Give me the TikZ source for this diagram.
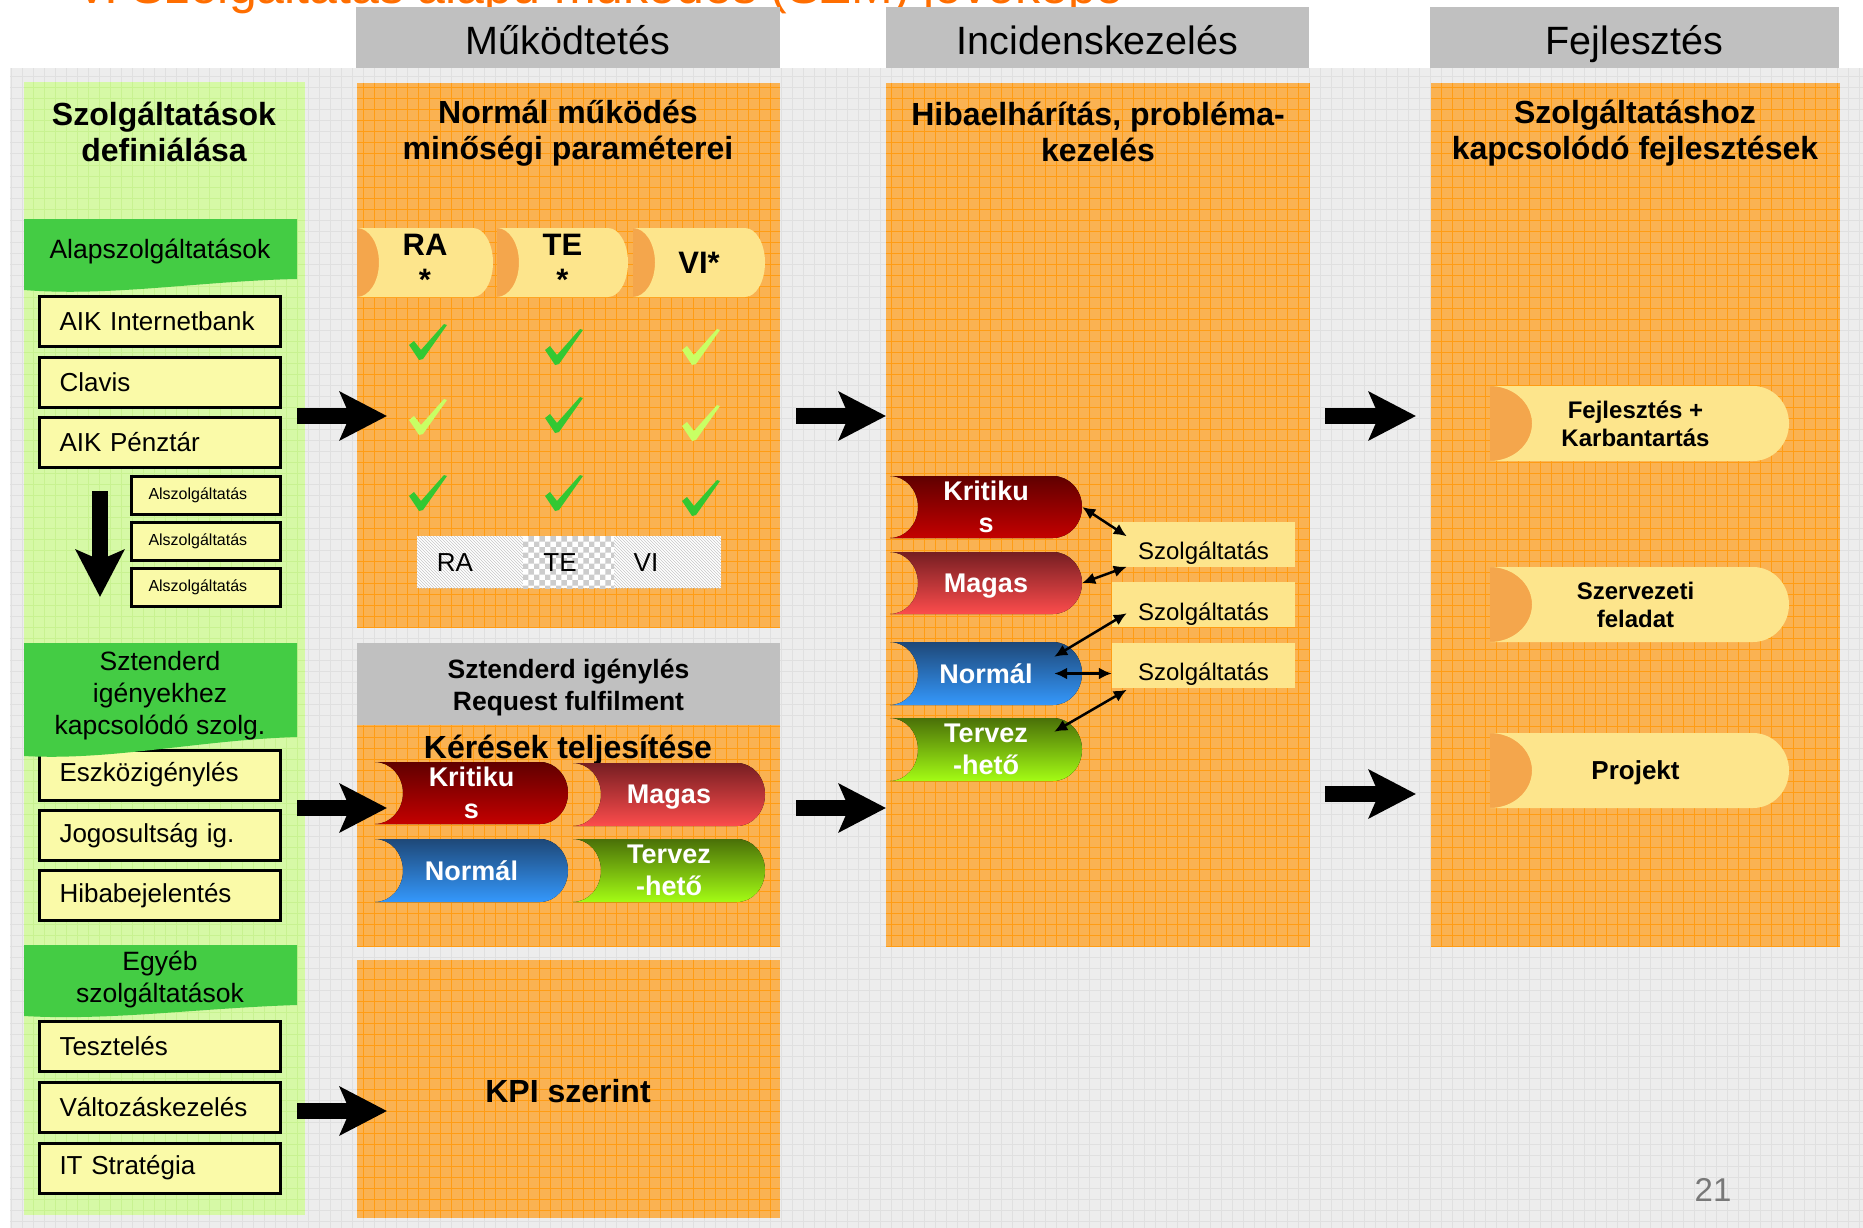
\documentclass[tikz,border=0pt]{standalone}
\usepackage{fontspec}
\setmainfont{Liberation Sans}
\usetikzlibrary{arrows.meta,patterns,calc}
\definecolor{bggray}{RGB}{237,237,237}
\definecolor{bggrid}{RGB}{224,224,224}
\definecolor{hdrgray}{RGB}{192,192,192}
\definecolor{lgreen}{RGB}{214,249,166}
\definecolor{lgreengrid}{RGB}{200,242,145}
\definecolor{dgreen}{RGB}{68,204,68}
\definecolor{boxyel}{RGB}{250,250,168}
\definecolor{orfill}{RGB}{250,178,82}
\definecolor{orgridc}{RGB}{255,156,20}
\definecolor{tabyel}{RGB}{253,229,140}
\definecolor{bitec}{RGB}{244,166,76}
\definecolor{chkdark}{RGB}{50,200,50}
\definecolor{chklight}{RGB}{200,255,100}
\definecolor{titleor}{RGB}{255,110,0}
\definecolor{krtop}{RGB}{96,0,0}
\definecolor{krbot}{RGB}{196,0,0}
\definecolor{mgtop}{RGB}{118,30,34}
\definecolor{mgbot}{RGB}{252,76,76}
\definecolor{nmtop}{RGB}{30,72,120}
\definecolor{nmbot}{RGB}{52,152,252}
\definecolor{tvtop}{RGB}{74,112,8}
\definecolor{tvbot}{RGB}{164,252,20}
\definecolor{pggray}{RGB}{120,120,120}

\newcommand\fsz[2]{\fontsize{#1}{#2}\selectfont}
\def\tbite{28}\def\trad{29}
\newcommand\tabfill[5]{%
 \fill[#1] (#2,#3) -- ({#4-\trad},#3) .. controls ({#4-0.448*\trad},#3) and (#4,{#3+0.224*(#5-#3)}) .. (#4,{0.5*(#3+#5)}) .. controls (#4,{#5-0.224*(#5-#3)}) and ({#4-0.448*\trad},#5) .. ({#4-\trad},#5) -- (#2,#5) .. controls ({#2+0.552*\tbite},#5) and ({#2+\tbite},{#5-0.224*(#5-#3)}) .. ({#2+\tbite},{0.5*(#3+#5)}) .. controls ({#2+\tbite},{#3+0.224*(#5-#3)}) and ({#2+0.552*\tbite},#3) .. (#2,#3) -- cycle;}
\newcommand\bitefill[4]{%
 \fill[#1] (#2,#3) -- (#2,#4) .. controls ({#2+0.552*\tbite},#4) and ({#2+\tbite},{#4-0.224*(#4-#3)}) .. ({#2+\tbite},{0.5*(#3+#4)}) .. controls ({#2+\tbite},{#3+0.224*(#4-#3)}) and ({#2+0.552*\tbite},#3) .. (#2,#3) -- cycle;}
\newcommand\tabnode[8]{%
 \tabfill{#6}{#2}{#3}{#4}{#5}
 \pgfmathsetlengthmacro\tabw{(#4-#2)*1pt}\pgfmathsetlengthmacro\tabh{(#5-#3)*1pt}
 \node[minimum width=\tabw, minimum height=\tabh, inner sep=0pt, #7] (#1) at ({0.5*(#2+#4)},{0.5*(#3+#5)}) {#8};}
\newcommand\chk[3]{\fill[#3,shift={(#1,#2)}] (-19,3) -- (-14,-1) -- (-7,8) -- (16,-18) -- (19,-17) -- (-5,17) -- (-9,18) -- cycle;}

\begin{document}
\begin{tikzpicture}[x=1pt,y=-1pt,
  hdr/.style={fill=hdrgray, minimum width=424pt, minimum height=61pt, inner sep=0pt, text height=34pt, text depth=0pt, font=\fsz{39.5}{44}},
  lbox/.style={draw, line width=3pt, fill=boxyel, minimum width=241pt, minimum height=50pt, text width=201pt, inner xsep=20pt, inner ysep=0pt, align=left, font=\fsz{26}{30}},
  sbox/.style={draw, line width=3pt, fill=boxyel, minimum width=149pt, minimum height=38pt, text width=115pt, inner xsep=17pt, inner ysep=0pt, align=left, font=\fsz{16}{19}},
  ttl/.style={font=\bfseries\fsz{32}{36}, align=center},
  bantxt/.style={font=\fsz{26.5}{32}, align=center},
  tabblk/.style={font=\bfseries\fsz{31}{35}, align=center, text=black},
  tabfj/.style={font=\bfseries\fsz{24}{28}, align=center, text=black, xshift=-4pt},
  tabtxt/.style={font=\bfseries\fsz{27}{32}, align=center, text=white},
  szb/.style={fill=tabyel, minimum width=183pt, minimum height=45pt, inner sep=0pt, text height=31pt, text depth=0pt, font=\fsz{24}{28}},
  orgrid/.style={draw=orgridc, line width=1pt, step=11pt},
  bigarrow/.style={line width=16pt, -{Stealth[length=47pt,width=48pt,inset=10pt]}},
  dbl/.style={{Latex[length=13pt,width=12pt]}-{Latex[length=13pt,width=12pt]}, line width=2.5pt}
]
\useasboundingbox (0,0) rectangle (1863,1228);
\clip (0,0) rectangle (1863,1228);
\fill[white] (0,0) rectangle (1863,1228);
% title (cut off at top)
\node[anchor=base west, text=titleor, font=\fsz{50}{60}, inner sep=0pt] (title) at (75,4) {V. Szolgáltatás alapú működés (SZM) jövőképe};
% background
\fill[bggray] (10,68) rectangle (1863,1228);
\draw[bggrid, line width=1pt, step=11pt] (10,1228) grid (1863,68);
% headers
\node[hdr] (h1) at (568,37.5) {Működtetés};
\node[hdr, minimum width=423pt] (h2) at (1097.5,37.5) {Incidenskezelés};
\node[hdr, minimum width=409pt] (h3) at (1634.5,37.5) {Fejlesztés};
% left column
\fill[lgreen] (24,82) rectangle (305,1215);
\draw[lgreengrid, line width=1pt, step=11pt] (24,1215) grid (305,82);
\node[ttl] (ltitle) at (164,132) {Szolgáltatások\\definiálása};
\fill[dgreen] (24,219) -- (297,219) -- (297,279) .. controls (200,281) and (110,297) .. (24,290) -- cycle;
\node[bantxt] (alap) at (160,251) {Alapszolgáltatások};
\node[lbox] (aik) at (160,321.5) {AIK Internetbank};
\node[lbox] (clavis) at (160,382.5) {Clavis};
\node[lbox] (penz) at (160,442) {AIK Pénztár};
\node[sbox] (al1) at (206,495.5) {Alszolgáltatás};
\node[sbox] (al2) at (206,541.5) {Alszolgáltatás};
\node[sbox] (al3) at (206,587) {Alszolgáltatás};
\coordinate (da1) at (100,491);
\coordinate (da2) at (100,597);
\draw[bigarrow] (da1) -- (da2);
\node[lbox] (eszk) at (160,775) {Eszközigénylés};
\node[lbox] (jog) at (160,835.5) {Jogosultság ig.};
\node[lbox] (hiba) at (160,895.5) {Hibabejelentés};
\fill[dgreen] (24,643) -- (297,643) -- (297,737) .. controls (200,740) and (110,761) .. (24,756) -- cycle;
\node[bantxt] (sztb) at (160,696) {Sztenderd\\igényekhez\\kapcsolódó szolg.};
\node[lbox] (teszt) at (160,1046.5) {Tesztelés};
\node[lbox] (valt) at (160,1107.5) {Változáskezelés};
\node[lbox] (itst) at (160,1168) {IT Stratégia};
\fill[dgreen] (24,945) -- (297,945) -- (297,1005) .. controls (200,1008) and (110,1021) .. (24,1016) -- cycle;
\node[bantxt] (egyb) at (160,979) {Egyéb\\szolgáltatások};
% orange panels
\fill[orfill] (357,83) rectangle (780,627);
\draw[orgrid] (357,627) grid (780,83);
\fill[orfill] (357,725) rectangle (780,946);
\draw[orgrid] (357,946) grid (780,725);
\fill[orfill] (357,960) rectangle (780,1218);
\draw[orgrid] (357,1218) grid (780,960);
\fill[orfill] (886,83) rectangle (1310,946);
\draw[orgrid] (886,946) grid (1310,83);
\fill[orfill] (1431,83) rectangle (1840,946);
\draw[orgrid] (1431,946) grid (1840,83);
\fill[hdrgray] (357,643) rectangle (780,725);
\node[font=\bfseries\fsz{26.5}{32}, align=center] (sth) at (568.5,688) {Sztenderd igénylés\\Request fulfilment};
% panel titles
\node[ttl] (t1) at (568,133) {Normál működés\\minőségi paraméterei};
\node[ttl] (t3) at (1098,132) {Hibaelhárítás, probléma-\\kezelés};
\node[ttl] (t4) at (1635,133) {Szolgáltatáshoz\\kapcsolódó fejlesztések};
\node[font=\bfseries\fsz{32}{36}] (ker) at (568,750) {Kérések teljesítése};
\node[font=\bfseries\fsz{32}{36}] (kpi) at (568,1091) {KPI szerint};
% RA TE VI tabs
\def\tbite{22}\def\trad{20}
\bitefill{bitec}{357}{228}{297}
\tabnode{ra}{357}{228}{493}{297}{tabyel}{tabblk}{RA\\*}
\bitefill{bitec}{497}{228}{297}
\tabnode{te}{497}{228}{628}{297}{tabyel}{tabblk}{TE\\*}
\bitefill{bitec}{633}{228}{297}
\tabnode{vi}{633}{228}{765}{297}{tabyel}{tabblk}{VI*}
% checks
\chk{428}{342}{chkdark} \chk{564}{347}{chkdark} \chk{701}{347}{chklight}
\chk{428}{417}{chklight} \chk{564}{415}{chkdark} \chk{701}{423}{chklight}
\chk{428}{493}{chkdark} \chk{564}{493}{chkdark} \chk{701}{498}{chkdark}
% RA TE VI legend box
\fill[white] (417,536) rectangle (721,588);
\fill[pattern=north west lines, pattern color=gray!45] (417,536) rectangle (721,588);
\fill[white] (523,536) rectangle (614,588);
\fill[pattern=checkerboard, pattern color=gray!40] (523,536) rectangle (614,588);
\node[font=\fsz{26}{30}] (lra) at (455,563) {RA};
\node[font=\fsz{26}{30}] (lte) at (560,563) {TE};
\node[font=\fsz{26}{30}] (lvi) at (646,563) {VI};
% Keresek tabs
\def\tbite{28}\def\trad{28}
\tabnode{kk}{375}{762}{568}{824}{top color=krtop,bottom color=krbot}{tabtxt}{Kritiku\\s}
\tabnode{km}{573}{763}{765}{826}{top color=mgtop,bottom color=mgbot}{tabtxt, text depth=0pt}{Magas}
\tabnode{kn}{375}{839}{568}{902}{top color=nmtop,bottom color=nmbot}{tabtxt}{Normál}
\tabnode{kt}{573}{839}{765}{902}{top color=tvtop,bottom color=tvbot}{tabtxt}{Tervez\\-hető}
% incident tabs
\def\tbite{28}\def\trad{29}
\tabnode{kr}{890}{476}{1082}{538}{top color=krtop,bottom color=krbot}{tabtxt}{Kritiku\\s}
\tabnode{mg}{890}{552}{1082}{614}{top color=mgtop,bottom color=mgbot}{tabtxt, text depth=0pt}{Magas}
\tabnode{nm}{890}{642}{1082}{705}{top color=nmtop,bottom color=nmbot}{tabtxt}{Normál}
\tabnode{tv}{890}{718}{1082}{781}{top color=tvtop,bottom color=tvbot}{tabtxt}{Tervez\\-hető}
\node[szb] (s1) at (1203.5,544) {Szolgáltatás};
\node[szb] (s2) at (1203.5,604.5) {Szolgáltatás};
\node[szb] (s3) at (1203.5,665) {Szolgáltatás};
\draw[dbl] (kr.east) -- ($(s1.north west)+(15,15)$);
\draw[dbl] (mg.east) -- ($(s1.south west)+(15,0)$);
\draw[dbl] ($(nm.north east)+(-28,15)$) -- ($(s2.south west)+(15,-14)$);
\draw[dbl] ($(nm.east)+(-28,0)$) -- (s3.west |- nm.east);
\draw[dbl] ($(tv.north east)+(-28,14)$) -- ($(s3.south west)+(15,2)$);
% Fejlesztes tabs
\def\tbite{42}\def\trad{36}
\bitefill{bitec}{1490}{386}{461}
\tabnode{fj1}{1490}{386}{1789}{461}{tabyel}{tabfj}{Fejlesztés +\\Karbantartás}
\bitefill{bitec}{1490}{567}{642}
\tabnode{fj2}{1490}{567}{1789}{642}{tabyel}{tabfj}{Szervezeti\\feladat}
\bitefill{bitec}{1490}{733}{808}
\tabnode{fj3}{1490}{733}{1789}{808}{tabyel}{tabfj, font=\bfseries\fsz{26}{30}, text depth=0pt}{Projekt}
% big arrows
\coordinate (l1s) at (297,416); \coordinate (l1e) at (387,416);
\coordinate (l2s) at (297,808); \coordinate (l2e) at (387,808);
\coordinate (l3s) at (297,1111); \coordinate (l3e) at (387,1111);
\coordinate (m1s) at (796,416); \coordinate (m1e) at (886,416);
\coordinate (m2s) at (796,808); \coordinate (m2e) at (886,808);
\coordinate (r1s) at (1325,416); \coordinate (r1e) at (1416,416);
\coordinate (r2s) at (1325,794); \coordinate (r2e) at (1416,794);
\draw[bigarrow] (l1s) -- (l1e);
\draw[bigarrow] (l2s) -- (l2e);
\draw[bigarrow] (l3s) -- (l3e);
\draw[bigarrow] (m1s) -- (m1e);
\draw[bigarrow] (m2s) -- (m2e);
\draw[bigarrow] (r1s) -- (r1e);
\draw[bigarrow] (r2s) -- (r2e);
% page number
\node[text=pggray, font=\fsz{33}{38}] (pg) at (1713,1190) {21};
\end{tikzpicture}
\end{document}
